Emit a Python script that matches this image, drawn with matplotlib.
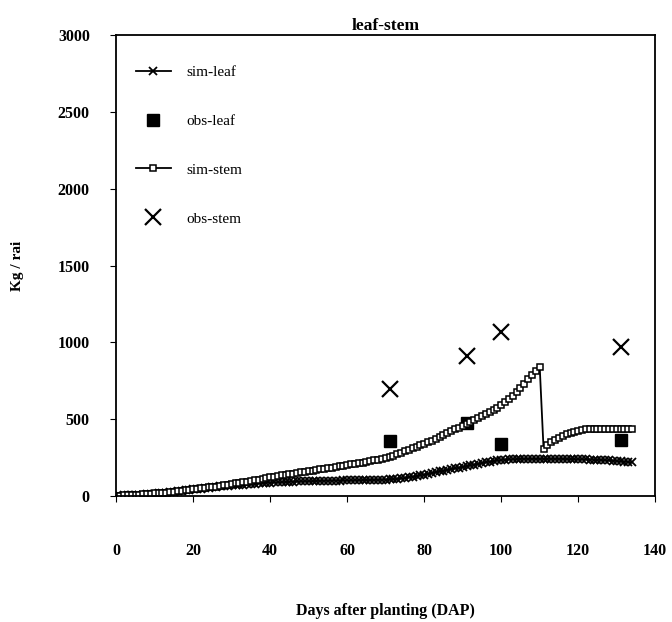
import numpy as np
import matplotlib.pyplot as plt

plt.rcParams['font.family'] = ['Liberation Serif', 'DejaVu Serif']

# simulated daily values (kg/rai), day 0 to 134
sim_leaf = [0, 1, 2, 3, 4, 5, 6, 8, 10, 12, 14,
            16, 18, 20, 23, 26, 29, 32, 35, 38, 41,
            44, 47, 50, 53, 56, 59, 61, 63, 65, 67,
            69, 71, 73, 75, 77, 79, 80, 82, 84, 86,
            87, 88, 89, 90, 91, 92, 93, 94, 95, 95,
            96, 96, 97, 97, 98, 98, 99, 99, 100, 100,
            100, 101, 101, 102, 102, 103, 103, 104, 104, 105,
            106, 108, 110, 113, 116, 120, 124, 128, 133, 138,
            143, 148, 153, 158, 163, 168, 173, 178, 183, 188,
            193, 198, 203, 208, 213, 218, 222, 226, 230, 233,
            235, 237, 238, 239, 240, 240, 240, 240, 240, 240,
            240, 240, 240, 240, 240, 240, 239, 239, 239, 238,
            238, 237, 236, 235, 234, 233, 232, 230, 228, 226,
            224, 222, 220, 218]

sim_stem = [0, 1, 2, 3, 4, 5, 7, 9, 11, 13, 15,
            17, 19, 21, 24, 27, 30, 33, 36, 39, 42,
            45, 48, 51, 54, 57, 60, 64, 68, 72, 76,
            80, 84, 88, 92, 96, 100, 105, 110, 115, 120,
            124, 128, 132, 136, 140, 144, 148, 152, 156, 160,
            164, 168, 172, 176, 180, 184, 188, 192, 196, 200,
            204, 208, 212, 216, 220, 225, 230, 236, 242, 248,
            255, 262, 270, 280, 290, 300, 310, 320, 330, 340,
            350, 360, 372, 384, 396, 408, 420, 432, 444, 456,
            468, 480, 492, 505, 518, 532, 546, 560, 575, 592,
            610, 630, 652, 676, 702, 730, 760, 790, 815, 840,
            305, 330, 350, 365, 378, 390, 400, 410, 418, 425,
            430, 433, 435, 436, 437, 437, 437, 437, 437, 437,
            436, 436, 435, 435]

sim_days = np.arange(len(sim_leaf))

# field observations
obs_days = [71, 91, 100, 131]
obs_leaf = [357, 474, 338, 364]
obs_stem = [695, 909, 1065, 968]

fig = plt.figure(figsize=(6.72, 6.22), dpi=100)
ax = fig.add_axes([0.173, 0.203, 0.802, 0.740])

ax.plot(sim_days, sim_leaf, color='black', lw=1.3, marker='x', ms=6, mew=1.3,
        label='sim-leaf')
ax.plot(obs_days, obs_leaf, ls='none', marker='s', ms=8.5, color='black',
        label='obs-leaf')
ax.plot(sim_days, sim_stem, color='black', lw=1.3, marker='s', ms=5,
        mfc='white', mew=1.1, label='sim-stem')
ax.plot(obs_days, obs_stem, ls='none', marker='x', ms=11, mew=1.6,
        color='black', label='obs-stem')

ax.set_xlim(0, 140)
ax.set_ylim(0, 3000)
ax.set_xticks(range(0, 141, 20))
ax.set_yticks(range(0, 3001, 500))
ax.tick_params(axis='x', direction='out', length=4, pad=30, labelsize=11.5)
ax.tick_params(axis='y', direction='out', length=4, pad=15, labelsize=11.5)
for lbl in ax.get_xticklabels() + ax.get_yticklabels():
    lbl.set_fontweight('bold')
for s in ax.spines.values():
    s.set_linewidth(1.3)

ax.set_xlabel('Days after planting (DAP)', fontsize=11.5, fontweight='bold',
              labelpad=32)
ax.set_ylabel('Kg / rai', fontsize=11, fontweight='bold', labelpad=24)
ax.set_title('leaf-stem', fontsize=12.5, fontweight='bold', pad=4)

ax.legend(loc='upper left', frameon=False, fontsize=11, labelspacing=2.3,
          handlelength=2.3, handletextpad=1.0, borderaxespad=0.6,
          bbox_to_anchor=(0.008, 0.968))

fig.savefig('out.png', dpi=100)
